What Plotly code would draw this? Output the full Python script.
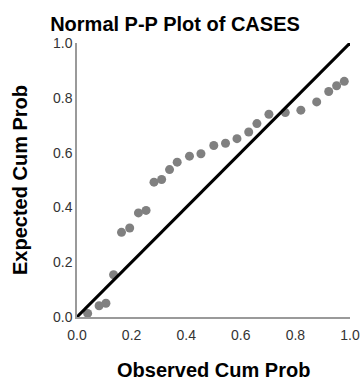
import plotly.graph_objects as go

observed = [0.039, 0.081, 0.106, 0.134, 0.163, 0.193, 0.225, 0.253, 0.282, 0.310,
            0.339, 0.367, 0.412, 0.454, 0.501, 0.544, 0.586, 0.629, 0.659, 0.703,
            0.763, 0.820, 0.878, 0.922, 0.951, 0.979]
expected = [0.013, 0.041, 0.050, 0.154, 0.309, 0.325, 0.380, 0.389, 0.492, 0.502,
            0.538, 0.565, 0.587, 0.596, 0.626, 0.634, 0.651, 0.675, 0.706, 0.740,
            0.746, 0.755, 0.785, 0.823, 0.844, 0.860]
ref_line = [0.0, 1.0]
tick_vals = [0.0, 0.2, 0.4, 0.6, 0.8, 1.0]
tick_text = ["0.0", "0.2", "0.4", "0.6", "0.8", "1.0"]

fig = go.Figure()
fig.add_trace(go.Scatter(x=observed, y=expected, mode="markers",
                         marker=dict(size=9, color="#808080"),
                         cliponaxis=False, hoverinfo="skip"))
fig.add_trace(go.Scatter(x=ref_line, y=ref_line, mode="lines",
                         line=dict(color="black", width=3),
                         cliponaxis=False, hoverinfo="skip"))

axis_common = dict(range=[0, 1], tickvals=tick_vals, ticktext=tick_text,
                   showgrid=False, zeroline=False, showline=True,
                   linecolor="#9a9a9a", linewidth=1.5, ticks="",
                   automargin=False,
                   tickfont=dict(family="Liberation Sans, Arial", size=14, color="#333333"),
                   fixedrange=True)

fig.update_layout(
    width=360, height=381,
    margin=dict(l=77, r=10, t=43, b=64),
    paper_bgcolor="white", plot_bgcolor="white",
    showlegend=False,
    title=dict(text="<b>Normal P-P Plot of CASES</b>", x=175/360, xanchor="center",
               y=1 - 24/381, yanchor="middle",
               font=dict(family="Liberation Sans, Arial", size=20, color="black")),
    xaxis=dict(**axis_common, ticklabelstandoff=4),
    yaxis=dict(**axis_common),
    annotations=[
        dict(text="<b>Observed Cum Prob</b>", xref="paper", yref="paper",
             x=0.5, y=0, xanchor="center", yanchor="middle", yshift=-53,
             showarrow=False,
             font=dict(family="Liberation Sans, Arial", size=20, color="black")),
        dict(text="<b>Expected Cum Prob</b>", xref="paper", yref="paper",
             x=0, y=0.5, xanchor="center", yanchor="middle", xshift=-57,
             textangle=-90, showarrow=False,
             font=dict(family="Liberation Sans, Arial", size=20, color="black")),
    ],
)

fig.write_html("out.html")
